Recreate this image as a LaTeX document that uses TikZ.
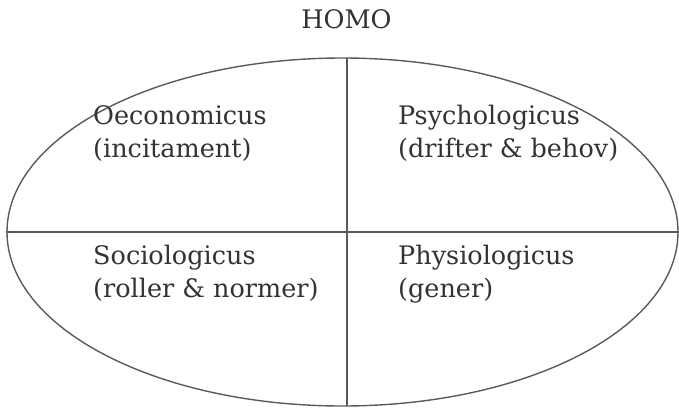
\documentclass[tikz,border=0pt]{standalone}
\usepackage{fontspec}
\setmainfont{DejaVu Serif}
\usetikzlibrary{shapes.geometric}
\definecolor{ink}{HTML}{333333}
\definecolor{rule}{HTML}{5A5A5A}
\begin{document}
\begin{tikzpicture}[x=1pt,y=-1pt,
  lbl/.style={anchor=base west,inner sep=0pt,text=ink,align=left,
    font=\fontsize{25.5}{33}\selectfont},
  frame/.style={draw=rule,line width=1.4pt}]
\useasboundingbox (0,0) rectangle (679,407);
\node[ellipse,frame,minimum width=671pt,minimum height=348pt,inner sep=0pt] (E) at (342.5,232) {};
\coordinate (vt) at (347,58.1);
\coordinate (vb) at (347,405.9);
\draw[frame] (E.west) -- (E.east);
\draw[frame] (vt) -- (vb);
\node[anchor=base,inner sep=0pt,text=ink,font=\fontsize{25.5}{33}\selectfont] (homo) at (346.5,28) {HOMO};
\node[lbl] (oe) at (93,157) {Oeconomicus\\(incitament)};
\node[lbl] (ps) at (398,157) {Psychologicus\\(drifter \& behov)};
\node[lbl] (so) at (93,297) {Sociologicus\\(roller \& normer)};
\node[lbl] (ph) at (398,297) {Physiologicus\\(gener)};
\end{tikzpicture}
\end{document}
